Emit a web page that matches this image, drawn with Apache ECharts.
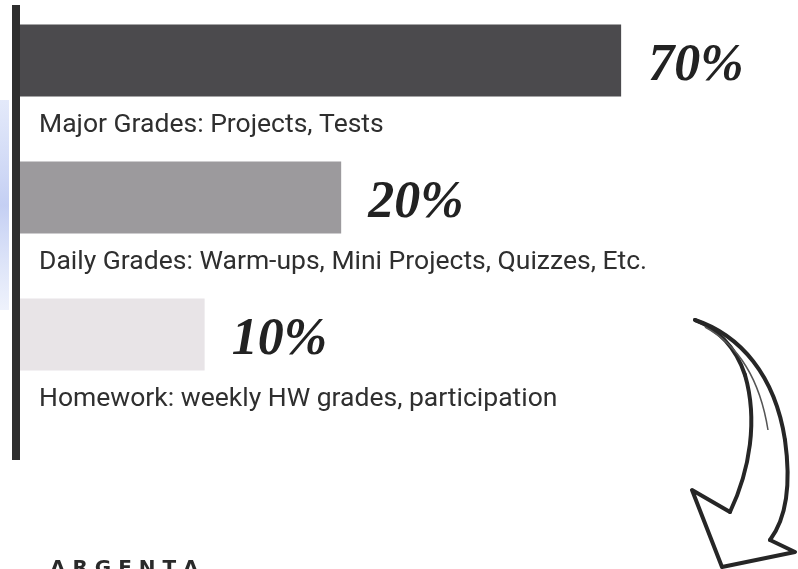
<!DOCTYPE html>
<html>
<head>
<meta charset="utf-8">
<script src="https://cdn.jsdelivr.net/npm/echarts@6/dist/echarts.min.js"></script>
<style>
  html, body { margin: 0; padding: 0; background: #fff; }
  #chart { width: 798px; height: 569px; }
</style>
</head>
<body>
<div id="chart"></div>
<script>
// categories (the text printed under each bar)
const categories = [
  'Major Grades: Projects, Tests',
  'Daily Grades: Warm-ups, Mini Projects, Quizzes, Etc.',
  'Homework: weekly HW grades, participation'
];
// printed share of the grade
const shares = [70, 20, 10];
// bar lengths as printed (the bars are not drawn to scale in the original)
const drawnLength = [70, 37.4, 21.5];
const barColors = ['#4b4a4d', '#9c9a9d', '#e8e4e7'];

const myChart = echarts.init(document.getElementById('chart'));

// arrow pieces (hand-drawn decoration, lower right)
const arrowStyle = { fill: 'none', stroke: '#262626', lineWidth: 4, lineJoin: 'round', lineCap: 'round' };
function curve(x1, y1, cx1, cy1, cx2, cy2, x2, y2, style) {
  return {
    type: 'bezierCurve',
    shape: { x1: x1, y1: y1, cpx1: cx1, cpy1: cy1, cpx2: cx2, cpy2: cy2, x2: x2, y2: y2 },
    style: style || arrowStyle,
    z: 10
  };
}

myChart.setOption({
  backgroundColor: '#ffffff',
  animation: false,
  grid: {
    left: 20,
    right: 91,
    top: -8,
    height: 411,
    outerBoundsMode: 'none'
  },
  xAxis: {
    type: 'value',
    min: 0,
    max: 80,
    show: false
  },
  yAxis: {
    type: 'category',
    inverse: true,
    data: categories,
    axisLine: { show: false },
    axisTick: { show: false },
    axisLabel: { show: false }
  },
  series: [
    {
      type: 'bar',
      barWidth: 72,
      data: drawnLength.map((v, i) => ({
        value: v,
        itemStyle: { color: barColors[i] }
      })),
      label: {
        show: true,
        position: 'right',
        distance: 27,
        offset: [0, 6],
        formatter: p => shares[p.dataIndex] + '%',
        fontFamily: 'Liberation Serif',
        fontStyle: 'italic',
        fontWeight: 'bold',
        fontSize: 52,
        color: '#222'
      }
    },
    {
      // same bars again, invisible, only to carry the description under each bar
      type: 'bar',
      barWidth: 72,
      barGap: '-100%',
      silent: true,
      data: drawnLength,
      itemStyle: { color: 'rgba(0,0,0,0)' },
      label: {
        show: true,
        position: 'insideLeft',
        distance: 19,
        offset: [0, 65],
        formatter: p => categories[p.dataIndex],
        fontFamily: 'Roboto',
        fontSize: 26.5,
        color: '#2f2f2f'
      }
    }
  ],
  graphic: [
    // faint blue smudge on the left margin of the scan
    {
      type: 'rect',
      shape: { x: 0, y: 100, width: 9, height: 210 },
      style: {
        fill: new echarts.graphic.LinearGradient(0, 0, 0, 1, [
          { offset: 0, color: 'rgba(200,212,245,0.5)' },
          { offset: 0.5, color: 'rgba(190,202,242,0.9)' },
          { offset: 1, color: 'rgba(200,212,245,0.3)' }
        ])
      },
      z: 1
    },
    // heavy vertical rule on the left
    {
      type: 'rect',
      shape: { x: 12, y: 5, width: 8, height: 455 },
      style: { fill: '#2e2e2e' },
      z: 10
    },
    curve(695, 320, 740, 335, 775, 375, 785, 440),
    curve(785, 440, 792, 490, 785, 520, 770, 540),
    {
      type: 'polyline',
      shape: { points: [[770, 540], [795, 552], [722, 567], [692, 490], [730, 512]] },
      style: arrowStyle,
      z: 10
    },
    curve(730, 512, 750, 470, 758, 420, 745, 375),
    curve(745, 375, 735, 345, 715, 328, 695, 320),
    curve(705, 327, 738, 345, 760, 380, 768, 430, { fill: 'none', stroke: '#555', lineWidth: 1.5 }),
    // cut-off heading at the bottom of the page
    {
      type: 'text',
      left: 50,
      top: 559,
      style: {
        text: 'A R G E N T A',
        fontFamily: 'DejaVu Sans',
        fontWeight: 'bold',
        fontSize: 20,
        fill: '#2a2a2a'
      },
      z: 10
    }
  ]
});

window.onresize = function () {
  myChart.resize();
};
</script>
</body>
</html>
